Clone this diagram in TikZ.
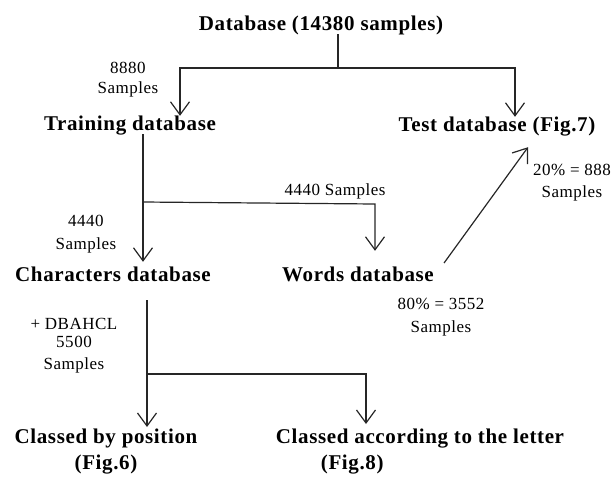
\documentclass[tikz,border=0pt]{standalone}
\usepackage{fontspec}
\setmainfont{Liberation Serif}
\newfontfamily\headfont[LetterSpace=3]{Liberation Serif}
\newfontfamily\notefont[LetterSpace=3]{Liberation Serif}
\usetikzlibrary{arrows.meta}

\begin{document}
\begin{tikzpicture}[x=1pt, y=-1pt,
		head/.style={font=\headfont\bfseries\fontsize{21}{26}\selectfont, inner sep=0pt},
		title/.style={head, text height=14pt, text depth=4pt},
		note/.style={font=\notefont\fontsize{17}{20}\selectfont, inner sep=0pt, align=center},
		link/.style={line width=1.2pt, color=black!85},
		arr/.style={link, -{Straight Barb[length=13pt, width=19pt]}}]
		%%%%% START %%%%%
		\useasboundingbox (0, 0) rectangle (616, 477);
		
		\node[title] (db) at (321, 25) {Database (14380 samples)};
		\node[title] (train) at (130, 125) {Training database};
		\node[title] (test) at (497, 126) {Test database (Fig.7)};
		\node[title] (chars) at (113, 276) {Characters database};
		\node[title] (words) at (358, 276) {Words database};
		\node[head, align=center, anchor=north] (pos) at (106, 429) {Classed by position\\(Fig.6)};
		\node[head, align=left, anchor=north] (letter) at (420, 429) {Classed according to the letter\\\hspace*{45pt}(Fig.8)};
		
		\node[note] (n8880) at (128, 80) {8880\\Samples};
		\node[note] (n4440w) at (335, 191) {4440 Samples};
		\node[note] (n4440c) at (86, 234) {4440\\[3pt]Samples};
		\node[note] (n20) at (572, 183) {20\% = 888\\[2pt]Samples};
		\node[note] (n80) at (441, 317) {80\% = 3552\\[3pt]Samples};
		\node[note] (ndbahcl) at (74, 346) {+ DBAHCL\\[-2pt]5500\\[2pt]Samples};
		
		\coordinate (j1) at (338, 68);
		\coordinate (j2) at (143, 202);
		\coordinate (j2w) at (375, 204);
		\coordinate (j3) at (147, 374);
		
		\draw[link] (j1 |- db.south) -- (j1);
		\draw[arr] (j1) -| ([xshift=50pt]train.north);
		\draw[arr] (j1) -| ([xshift=18pt]test.north);
		
		\draw[arr] ([xshift=13pt]train.south) -- ([xshift=30pt, yshift=5pt]chars.north);
		\draw[arr] (j2) -- (j2w) -- ([xshift=17pt, yshift=16pt]words.north);
		\draw[arr] ([xshift=10pt, yshift=13pt]words.east) -- ([xshift=31pt, yshift=-12pt]test.south);
		
		\draw[arr] ([xshift=34pt, yshift=-15pt]chars.south) -- ([xshift=41pt, yshift=2pt]pos.north);
		\draw[arr] (j3) -| ([xshift=-54pt, yshift=5pt]letter.north);
		
		%%%%% END %%%%%
	\end{tikzpicture}
\end{document}
